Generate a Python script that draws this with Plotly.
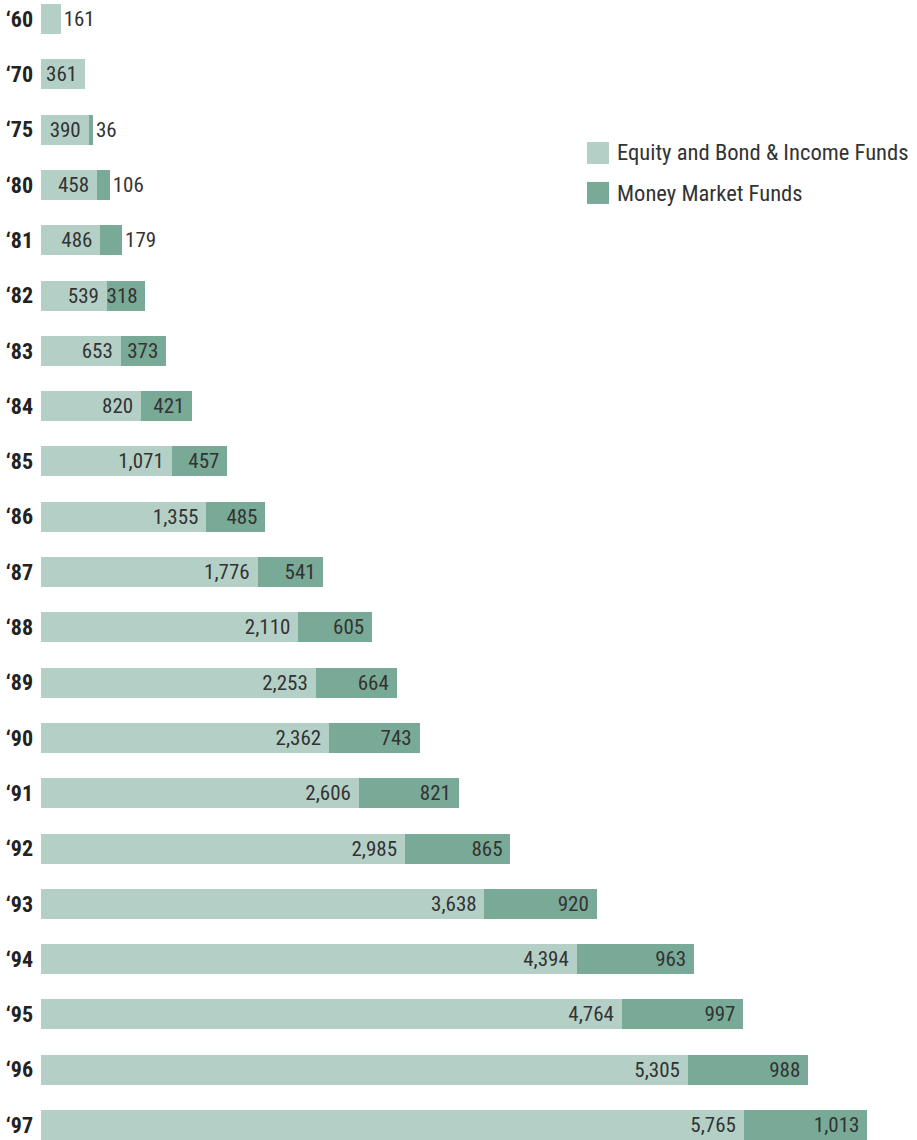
import plotly.graph_objects as go

years = ['‘60', '‘70', '‘75', '‘80', '‘81', '‘82', '‘83', '‘84', '‘85', '‘86', '‘87',
         '‘88', '‘89', '‘90', '‘91', '‘92', '‘93', '‘94', '‘95', '‘96', '‘97']
equity = [161, 361, 390, 458, 486, 539, 653, 820, 1071, 1355, 1776,
          2110, 2253, 2362, 2606, 2985, 3638, 4394, 4764, 5305, 5765]
money = [None, None, 36, 106, 179, 318, 373, 421, 457, 485, 541,
         605, 664, 743, 821, 865, 920, 963, 997, 988, 1013]
series_names = ["Equity and Bond & Income Funds", "Money Market Funds"]

FONT = "Roboto Condensed, Roboto, sans-serif"
C_EQ = "#b4d0c6"
C_MM = "#79aa97"
TXT = "#333333"
SMALL = 200  # values below this get their label outside the bar

def label(v):
    if v is None:
        return ""
    s = f"{v:,}"
    return s if v < SMALL else s + "\u00a0"

def pos(v):
    if v is None:
        return "none"
    return "outside" if v < SMALL else "inside"

fig = go.Figure()
for vals, name, col in [(equity, series_names[0], C_EQ), (money, series_names[1], C_MM)]:
    fig.add_trace(go.Bar(
        y=years, x=vals, orientation="h", name=name,
        marker=dict(color=col, line=dict(width=0)),
        text=[label(v) for v in vals], textposition=[pos(v) for v in vals],
        insidetextanchor="end", constraintext="none", cliponaxis=False,
        textfont=dict(family=FONT, size=21, color=TXT),
    ))

# legend drawn as swatches + labels (paper coordinates)
legend_rows = [(series_names[0], C_EQ, 0.8754, 0.8561, 0.8662),
               (series_names[1], C_MM, 0.8404, 0.8211, 0.8307)]
for name, col, ytop, ybot, ymid in legend_rows:
    fig.add_shape(type="rect", xref="paper", yref="paper",
                  x0=0.6233, x1=0.6484, y0=ybot, y1=ytop,
                  fillcolor=col, line=dict(width=0))
    fig.add_annotation(xref="paper", yref="paper", x=0.6553, y=ymid,
                       xanchor="left", yanchor="middle", showarrow=False,
                       text=name, font=dict(family=FONT, size=22.6, color=TXT))

fig.update_layout(
    width=917, height=1140,
    barmode="stack", bargap=0.457,
    margin=dict(l=41, r=0, t=0, b=0),
    paper_bgcolor="white", plot_bgcolor="white",
    uniformtext=dict(minsize=21, mode="show"),
    font=dict(family=FONT, color=TXT),
    showlegend=False,
    xaxis=dict(range=[0, 7186], visible=False, showgrid=False, zeroline=False),
    yaxis=dict(categoryorder="array", categoryarray=years,
               range=[20.27, -0.344], showgrid=False, zeroline=False,
               showline=False, ticks="", ticklabelstandoff=7,
               tickfont=dict(family=FONT, size=22, color="#222222", weight="bold")),
)

fig.write_html("out.html")
